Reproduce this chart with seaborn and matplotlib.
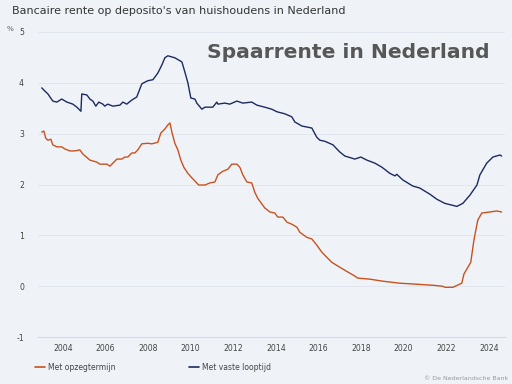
import numpy as np
import pandas as pd
import seaborn as sns
import matplotlib.pyplot as plt

# Met opzegtermijn
opzeg_year = [2003.01, 2003.11, 2003.2, 2003.3, 2003.44, 2003.53, 2003.72, 2003.95, 2004.09, 2004.33,
              2004.56, 2004.8, 2004.94, 2005.27, 2005.6, 2005.74, 2006.07, 2006.21, 2006.35, 2006.54,
              2006.77, 2006.91, 2007.05, 2007.24, 2007.38, 2007.52, 2007.71, 2007.99, 2008.18, 2008.46,
              2008.6, 2008.79, 2008.93, 2009.03, 2009.12, 2009.26, 2009.4, 2009.54, 2009.68, 2009.87,
              2010.06, 2010.2, 2010.38, 2010.67, 2010.9, 2011.14, 2011.28, 2011.51, 2011.75, 2011.93,
              2012.17, 2012.31, 2012.45, 2012.64, 2012.87, 2013.01, 2013.15, 2013.39, 2013.48, 2013.72,
              2013.95, 2014.09, 2014.33, 2014.52, 2014.75, 2014.99, 2015.13, 2015.46, 2015.69, 2015.92,
              2016.16, 2016.39, 2016.63, 2016.86, 2017.1, 2017.38, 2017.71, 2017.85, 2018.41, 2019.02,
              2019.82, 2020.62, 2021.37, 2021.84, 2021.93, 2022.31, 2022.73, 2022.83, 2023.01, 2023.15,
              2023.3, 2023.48, 2023.67, 2024.05, 2024.38, 2024.6]
opzeg_rate = [3.03, 3.05, 2.91, 2.87, 2.89, 2.78, 2.74, 2.74, 2.70, 2.66,
              2.66, 2.68, 2.60, 2.48, 2.44, 2.40, 2.40, 2.36, 2.42, 2.50,
              2.50, 2.54, 2.54, 2.62, 2.62, 2.68, 2.80, 2.81, 2.80, 2.83,
              3.01, 3.09, 3.17, 3.21, 3.03, 2.81, 2.68, 2.48, 2.34, 2.22,
              2.13, 2.07, 1.99, 1.99, 2.03, 2.05, 2.19, 2.26, 2.30, 2.40,
              2.40, 2.34, 2.19, 2.05, 2.03, 1.85, 1.73, 1.59, 1.54, 1.46,
              1.44, 1.36, 1.36, 1.26, 1.22, 1.16, 1.06, 0.96, 0.93, 0.81,
              0.67, 0.57, 0.47, 0.41, 0.35, 0.28, 0.20, 0.16, 0.14, 0.10,
              0.06, 0.04, 0.02, 0.00, -0.02, -0.02, 0.06, 0.24, 0.37, 0.47,
              0.91, 1.30, 1.44, 1.46, 1.48, 1.46]

# Met vaste looptijd
vast_year = [2003.01, 2003.15, 2003.3, 2003.53, 2003.72, 2003.95, 2004.19, 2004.47, 2004.66, 2004.85,
             2004.89, 2005.13, 2005.27, 2005.41, 2005.55, 2005.69, 2005.88, 2005.97, 2006.11, 2006.35,
             2006.68, 2006.82, 2007.0, 2007.24, 2007.47, 2007.71, 2007.99, 2008.23, 2008.46, 2008.65,
             2008.79, 2008.93, 2009.26, 2009.59, 2009.73, 2009.87, 2010.01, 2010.2, 2010.29, 2010.53,
             2010.67, 2011.04, 2011.23, 2011.28, 2011.6, 2011.84, 2012.17, 2012.45, 2012.87, 2013.11,
             2013.48, 2013.81, 2014.05, 2014.42, 2014.75, 2014.89, 2015.22, 2015.69, 2015.92, 2016.07,
             2016.3, 2016.68, 2017.0, 2017.24, 2017.71, 2017.99, 2018.27, 2018.65, 2018.98, 2019.35,
             2019.59, 2019.68, 2019.96, 2020.43, 2020.76, 2021.23, 2021.56, 2021.93, 2022.5, 2022.78,
             2023.11, 2023.44, 2023.58, 2023.9, 2024.19, 2024.52, 2024.6]
vast_rate = [3.90, 3.84, 3.78, 3.64, 3.62, 3.68, 3.62, 3.58, 3.52, 3.44,
             3.78, 3.76, 3.68, 3.64, 3.54, 3.62, 3.58, 3.54, 3.58, 3.54,
             3.56, 3.62, 3.58, 3.66, 3.72, 3.98, 4.04, 4.06, 4.19, 4.35,
             4.49, 4.53, 4.49, 4.41, 4.21, 4.00, 3.70, 3.68, 3.60, 3.48,
             3.52, 3.52, 3.62, 3.58, 3.60, 3.58, 3.64, 3.60, 3.62, 3.56,
             3.52, 3.48, 3.43, 3.39, 3.33, 3.23, 3.15, 3.11, 2.93, 2.87,
             2.85, 2.78, 2.64, 2.56, 2.50, 2.54, 2.48, 2.42, 2.34, 2.22,
             2.17, 2.20, 2.09, 1.97, 1.93, 1.81, 1.71, 1.63, 1.57, 1.63,
             1.79, 1.99, 2.19, 2.42, 2.54, 2.58, 2.56]

year_ticks = [2004, 2006, 2008, 2010, 2012, 2014, 2016, 2018, 2020, 2022, 2024]
y_ticks = [-1, 0, 1, 2, 3, 4, 5]

bg = '#eff3f8'
orange = '#c8521e'
navy = '#1d2a5e'

df = pd.concat([
    pd.DataFrame({'jaar': opzeg_year, 'rente': opzeg_rate, 'reeks': 'Met opzegtermijn'}),
    pd.DataFrame({'jaar': vast_year, 'rente': vast_rate, 'reeks': 'Met vaste looptijd'}),
])

sns.set_style('white')
plt.rcParams['axes.unicode_minus'] = False
fig = plt.figure(figsize=(5.12, 3.84), dpi=100, facecolor=bg)
ax = fig.add_axes([0.074, 0.122, 0.912, 0.795], facecolor=bg)

sns.lineplot(data=df, x='jaar', y='rente', hue='reeks', palette=[orange, navy],
             linewidth=1.0, ax=ax, legend=False, sort=False)

ax.set_xlim(2002.83, 2024.75)
ax.set_ylim(-1, 5)
ax.set_xticks(year_ticks)
ax.set_yticks(y_ticks)
ax.set_xticklabels([str(y) for y in year_ticks])
ax.tick_params(axis='x', labelsize=5.6, colors='#444444', length=3, width=0.6, pad=2)
ax.tick_params(axis='x', color='#d3dbe8')
ax.tick_params(axis='y', labelsize=5.6, colors='#444444', length=0, pad=10)
ax.grid(axis='y', color='#e1e6ee', linewidth=0.7)
ax.set_axisbelow(True)
for s in ['top', 'right', 'left']:
    ax.spines[s].set_visible(False)
ax.spines['bottom'].set_color('#d3dbe8')
ax.spines['bottom'].set_linewidth(0.8)
ax.set_xlabel('')
ax.set_ylabel('')

fig.text(12 / 512, 1 - 11 / 384, "Bancaire rente op deposito's van huishoudens in Nederland",
         fontsize=8.0, color='#333333', va='center', ha='left')
fig.text(10 / 512, 1 - 29 / 384, '%', fontsize=5.2, color='#666666', va='center', ha='center')
fig.text(490 / 512, 1 - 52 / 384, 'Spaarrente in Nederland', fontsize=14.6, fontweight='bold',
         color='#575757', va='center', ha='right')

# legend
fig.lines.append(plt.Line2D([35 / 512, 45 / 512], [1 - 367 / 384] * 2, color=orange,
                            linewidth=1.2, transform=fig.transFigure))
fig.text(48 / 512, 1 - 367 / 384, 'Met opzegtermijn', fontsize=5.5, color='#444444', va='center')
fig.lines.append(plt.Line2D([189 / 512, 199 / 512], [1 - 367 / 384] * 2, color=navy,
                            linewidth=1.2, transform=fig.transFigure))
fig.text(202 / 512, 1 - 367 / 384, 'Met vaste looptijd', fontsize=5.5, color='#444444', va='center')

fig.text(508 / 512, 1 - 378 / 384, '\u00a9 De Nederlandsche Bank', fontsize=4.5, color='#999999',
         va='center', ha='right')

fig.savefig('out.png', dpi=100, facecolor=bg)
